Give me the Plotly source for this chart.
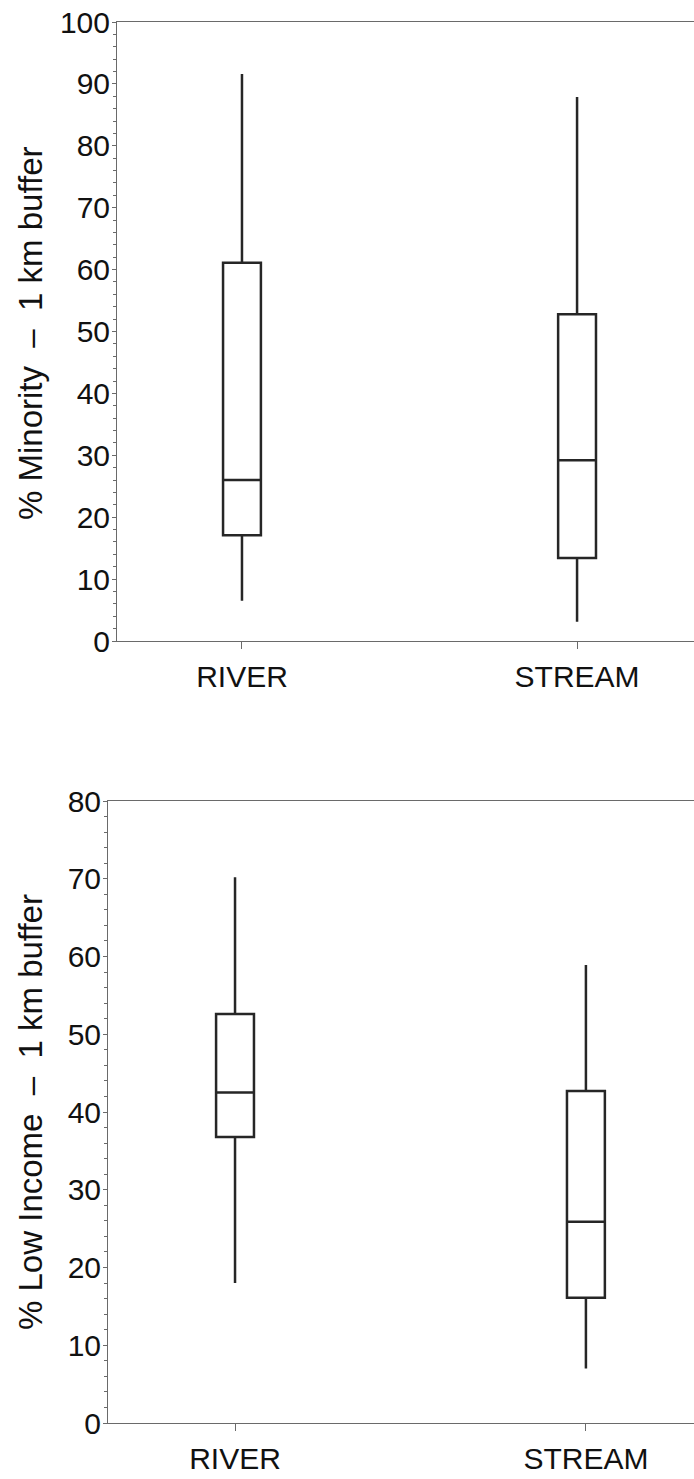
import plotly.graph_objects as go

categories = ["RIVER", "STREAM"]

# Top panel: % Minority - 1 km buffer
minority_lower = [6.5, 3.1]
minority_q1 = [17.1, 13.4]
minority_median = [26.0, 29.2]
minority_q3 = [61.1, 52.8]
minority_upper = [91.6, 87.9]

# Bottom panel: % Low Income - 1 km buffer
income_lower = [18.0, 7.0]
income_q1 = [36.8, 16.1]
income_median = [42.5, 25.9]
income_q3 = [52.6, 42.7]
income_upper = [70.2, 58.9]

W, H = 694, 1479
BOX_COLOR = "#262626"
AXIS_COLOR = "#6a6a6a"
TEXT_COLOR = "#111111"
FONT = "Liberation Sans, Arial, sans-serif"
SEP = "\u00a0\u00a0\u2013\u00a0\u00a0"

fig = go.Figure()

fig.add_trace(go.Box(
    x=categories, q1=minority_q1, median=minority_median, q3=minority_q3,
    lowerfence=minority_lower, upperfence=minority_upper,
    xaxis="x", yaxis="y", width=0.113, whiskerwidth=0,
    line=dict(color=BOX_COLOR, width=2.5), fillcolor="rgba(255,255,255,0)",
    boxpoints=False, showlegend=False, hoverinfo="skip",
))
fig.add_trace(go.Box(
    x=categories, q1=income_q1, median=income_median, q3=income_q3,
    lowerfence=income_lower, upperfence=income_upper,
    xaxis="x2", yaxis="y2", width=0.108, whiskerwidth=0,
    line=dict(color=BOX_COLOR, width=2.5), fillcolor="rgba(255,255,255,0)",
    boxpoints=False, showlegend=False, hoverinfo="skip",
))

def px_x(p):
    return p / W

def px_y(p):
    return 1 - p / H

common_x = dict(
    type="category", categoryorder="array", categoryarray=categories,
    showline=True, linecolor=AXIS_COLOR, linewidth=1, mirror=True,
    ticks="outside", ticklen=7, tickcolor=AXIS_COLOR, tickwidth=1,
    ticklabelstandoff=2,
    showgrid=False, zeroline=False, automargin=False,
    tickfont=dict(family=FONT, size=30, color=TEXT_COLOR),
)
common_y = dict(
    showline=True, linecolor=AXIS_COLOR, linewidth=1,
    ticks="outside", ticklen=4, tickcolor=AXIS_COLOR, tickwidth=1,
    ticklabelstandoff=-4,
    showgrid=False, zeroline=False, dtick=10, automargin=False,
    tickfont=dict(family=FONT, size=30, color=TEXT_COLOR),
    minor=dict(ticks="outside", ticklen=3, dtick=2, tickcolor=AXIS_COLOR, showgrid=False),
)

fig.update_layout(
    width=W, height=H,
    margin=dict(l=0, r=0, t=0, b=0, autoexpand=False),
    paper_bgcolor="white", plot_bgcolor="white",
    xaxis=dict(common_x, domain=[px_x(117), 1], anchor="y", range=[-0.373, 1.349]),
    yaxis=dict(common_y, domain=[px_y(641), px_y(22)], anchor="x", range=[0, 100]),
    xaxis2=dict(common_x, domain=[px_x(108), 1], anchor="y2", range=[-0.362, 1.308]),
    yaxis2=dict(common_y, domain=[px_y(1423), px_y(801)], anchor="x2", range=[0, 80]),
    annotations=[
        dict(text="% Minority" + SEP + "1 km buffer", textangle=-90,
             x=px_x(30), y=px_y(333), xref="paper", yref="paper",
             xanchor="center", yanchor="middle", showarrow=False,
             font=dict(family=FONT, size=33, color=TEXT_COLOR)),
        dict(text="% Low Income" + SEP + "1 km buffer", textangle=-90,
             x=px_x(30), y=px_y(1112), xref="paper", yref="paper",
             xanchor="center", yanchor="middle", showarrow=False,
             font=dict(family=FONT, size=33, color=TEXT_COLOR)),
    ],
)

fig.write_html(
    "out.html",
    config={"displayModeBar": False, "staticPlot": True},
    post_script="document.body.style.margin='0';document.body.style.padding='0';",
)
